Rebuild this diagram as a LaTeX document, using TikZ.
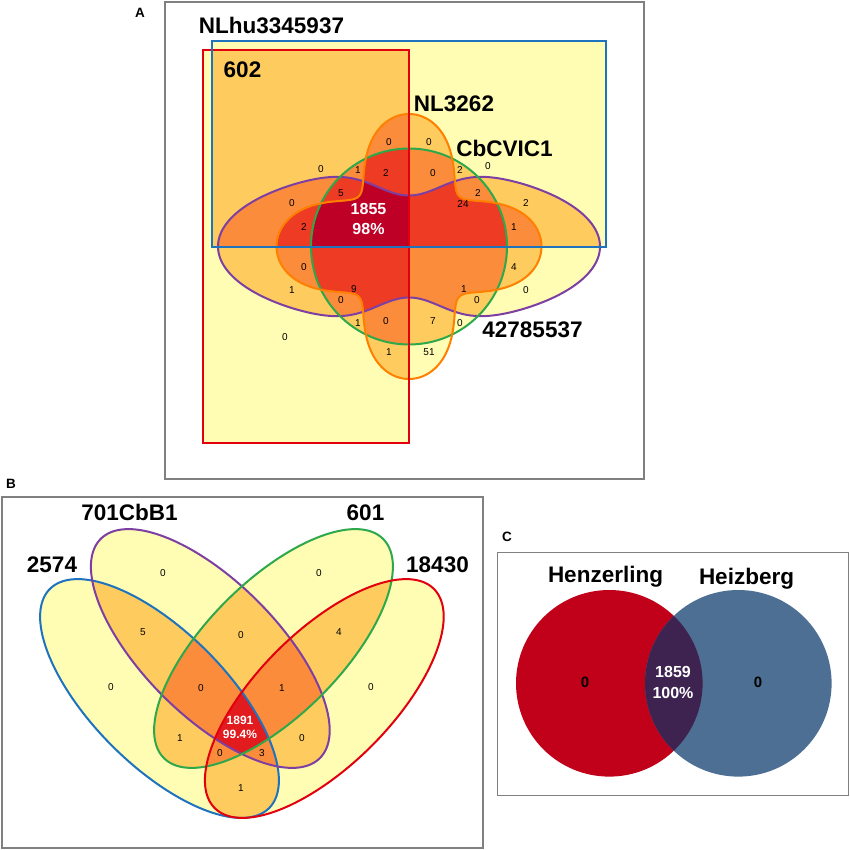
\documentclass[tikz,border=0pt]{standalone}
\usepackage{fontspec}
\setmainfont{Liberation Sans}
\definecolor{cA1}{HTML}{FFFDB3}
\definecolor{cA2}{HTML}{FDCB5E}
\definecolor{cA3}{HTML}{FA8C3B}
\definecolor{cA4}{HTML}{EE3B23}
\definecolor{cA5}{HTML}{BE0026}
\definecolor{cB4}{HTML}{E21B1E}
\definecolor{lnRed}{HTML}{E2000F}
\definecolor{lnBlue}{HTML}{1E73BE}
\definecolor{lnGreen}{HTML}{2DA84A}
\definecolor{lnPurple}{HTML}{7E3FA3}
\definecolor{lnOrange}{HTML}{FF8000}
\definecolor{cRed}{HTML}{C10019}
\definecolor{cBlue}{HTML}{4C6F93}
\definecolor{cMix}{HTML}{3E2350}
\definecolor{frameGray}{HTML}{808080}
% panel A sets
\def\sR{(203,50) rectangle (409,443)}
\def\sB{(212,41) rectangle (606,247)}
\def\sG{(409,246.5) circle[radius=98]}
\def\sP{plot[domain=180:0,samples=140,variable=\t] ({409+191*cos(\t)},{246.5-78*sin(\t)+27*exp(-((191*cos(\t)/47)^2))}) -- plot[domain=0:180,samples=140,variable=\t] ({409+191*cos(\t)},{246.5+78*sin(\t)-27*exp(-((191*cos(\t)/47)^2))}) -- cycle}
\def\sO{plot[domain=0:360,samples=241,variable=\t] ({409+(103.875+30.75*cos(4*\t)-2.125*cos(8*\t))*cos(\t)},{246.5+(103.875+30.75*cos(4*\t)-2.125*cos(8*\t))*sin(\t)}) -- cycle}
% panel B sets
\def\eBl{plot[domain=0:360,samples=160,variable=\t] ({159.5+0.7071*(155*cos(\t)-67*sin(\t))},{698.5+0.7071*(155*cos(\t)+67*sin(\t))}) -- cycle}
\def\ePu{plot[domain=0:360,samples=160,variable=\t] ({210.3+0.7071*(155*cos(\t)-67*sin(\t))},{648.5+0.7071*(155*cos(\t)+67*sin(\t))}) -- cycle}
\def\eGr{plot[domain=0:360,samples=160,variable=\t] ({273.5+0.7071*(155*cos(\t)+67*sin(\t))},{648.5+0.7071*(-155*cos(\t)+67*sin(\t))}) -- cycle}
\def\eRe{plot[domain=0:360,samples=160,variable=\t] ({324.3+0.7071*(155*cos(\t)+67*sin(\t))},{698.5+0.7071*(-155*cos(\t)+67*sin(\t))}) -- cycle}
\newcommand\FillTwo[3]{\begin{scope}\clip #1;\fill[#3] #2;\end{scope}}
\newcommand\FillThree[4]{\begin{scope}\clip #1;\clip #2;\fill[#4] #3;\end{scope}}
\newcommand\FillFour[5]{\begin{scope}\clip #1;\clip #2;\clip #3;\fill[#5] #4;\end{scope}}
\newcommand\FillFive[6]{\begin{scope}\clip #1;\clip #2;\clip #3;\clip #4;\fill[#6] #5;\end{scope}}
\begin{document}
\begin{tikzpicture}[x=1pt,y=-1pt,
  num/.style={font=\fontsize{10}{10}\selectfont, inner sep=0pt},
  big/.style={font=\bfseries\fontsize{22.5}{22.5}\selectfont, inner sep=0pt, anchor=base},
  plabel/.style={font=\bfseries\fontsize{13.5}{13.5}\selectfont, inner sep=0pt},
  ctrA/.style={font=\bfseries\fontsize{16}{20.5}\selectfont, text=white, align=center, inner sep=0pt},
  ctrB/.style={font=\bfseries\fontsize{12}{14}\selectfont, text=white, align=center, inner sep=0pt},
  panelframe/.style={draw=frameGray, line width=1.3pt},
  setline/.style={line width=2pt},
]
\useasboundingbox (0,0) rectangle (850,850);
\fill[white] (0,0) rectangle (850,850);

% ================= Panel A =================
\draw[panelframe] (165,2) rectangle (644,479);
\node[plabel] (labA) at (140,13) {A};
\fill[cA1] \sR; \fill[cA1] \sB; \fill[cA1] \sG; \fill[cA1] \sP; \fill[cA1] \sO;
\FillTwo{\sR}{\sB}{cA2} \FillTwo{\sR}{\sG}{cA2} \FillTwo{\sR}{\sP}{cA2} \FillTwo{\sR}{\sO}{cA2}
\FillTwo{\sB}{\sG}{cA2} \FillTwo{\sB}{\sP}{cA2} \FillTwo{\sB}{\sO}{cA2}
\FillTwo{\sG}{\sP}{cA2} \FillTwo{\sG}{\sO}{cA2} \FillTwo{\sP}{\sO}{cA2}
\FillThree{\sR}{\sB}{\sG}{cA3} \FillThree{\sR}{\sB}{\sP}{cA3} \FillThree{\sR}{\sB}{\sO}{cA3}
\FillThree{\sR}{\sG}{\sP}{cA3} \FillThree{\sR}{\sG}{\sO}{cA3} \FillThree{\sR}{\sP}{\sO}{cA3}
\FillThree{\sB}{\sG}{\sP}{cA3} \FillThree{\sB}{\sG}{\sO}{cA3} \FillThree{\sB}{\sP}{\sO}{cA3}
\FillThree{\sG}{\sP}{\sO}{cA3}
\FillFour{\sR}{\sB}{\sG}{\sP}{cA4} \FillFour{\sR}{\sB}{\sG}{\sO}{cA4} \FillFour{\sR}{\sB}{\sP}{\sO}{cA4}
\FillFour{\sR}{\sG}{\sP}{\sO}{cA4} \FillFour{\sB}{\sG}{\sP}{\sO}{cA4}
\FillFive{\sR}{\sB}{\sG}{\sP}{\sO}{cA5}
\draw[setline, lnPurple] \sP;
\draw[setline, lnGreen] \sG;
\draw[setline, lnOrange] \sO;
\draw[setline, lnRed] \sR;
\draw[setline, lnBlue] \sB;

\node[big] (tNLhu) at (271.5,34) {NLhu3345937};
\node[big] (t602) at (242.5,78) {602};
\node[big] (tNL) at (454,111.5) {NL3262};
\node[big] (tCb) at (504.5,156.5) {CbCVIC1};
\node[big] (t427) at (532.5,337.5) {42785537};
\node[ctrA] (cA) at (368.5,219) {1855\\98\%};
\foreach \x/\y/\v [count=\i] in {389/142/0, 429/142/0, 321/169/0, 358/170/1, 386/173/2, 433/173/0, 460/170/2, 488/166/0, 341/193/5, 478/193/2, 292/203/0, 463/204/24, 526/203/2, 304/227/2, 514/227/1, 304/267/0, 514/267/4, 292/290/1, 354/289/9, 464/289/1, 526/290/0, 341/300/0, 477/300/0, 358/323/1, 386/321/0, 433/321/7, 460/323/0, 285/337/0, 389/352/1, 429/352/51}
  \node[num] (na\i) at (\x,\y) {\v};

% ================= Panel B =================
\draw[panelframe] (2,497) rectangle (483,848);
\node[plabel] (labB) at (11,484) {B};
\fill[cA1] \eBl; \fill[cA1] \ePu; \fill[cA1] \eGr; \fill[cA1] \eRe;
\FillTwo{\eBl}{\ePu}{cA2} \FillTwo{\eBl}{\eGr}{cA2} \FillTwo{\eBl}{\eRe}{cA2}
\FillTwo{\ePu}{\eGr}{cA2} \FillTwo{\ePu}{\eRe}{cA2} \FillTwo{\eGr}{\eRe}{cA2}
\FillThree{\eBl}{\ePu}{\eGr}{cA3} \FillThree{\eBl}{\ePu}{\eRe}{cA3}
\FillThree{\eBl}{\eGr}{\eRe}{cA3} \FillThree{\ePu}{\eGr}{\eRe}{cA3}
\FillFour{\eBl}{\ePu}{\eGr}{\eRe}{cB4}
\draw[setline, lnBlue] \eBl;
\draw[setline, lnPurple] \ePu;
\draw[setline, lnGreen] \eGr;
\draw[setline, lnRed] \eRe;
\node[big] (t2574) at (52,572) {2574};
\node[big] (t701) at (129.5,520.5) {701CbB1};
\node[big] (t601) at (365.5,520) {601};
\node[big] (t18430) at (437.5,572) {18430};
\node[ctrB] (cB) at (240,727) {1891\\99.4\%};
\foreach \x/\y/\v [count=\i] in {163/573/0, 319/573/0, 143/632/5, 241/635/0, 339/632/4, 111/687/0, 201/688/0, 282/688/1, 371/687/0, 180/738/1, 302/738/0, 220/753/0, 262/753/3, 241/788/1}
  \node[num] (nb\i) at (\x,\y) {\v};

% ================= Panel C =================
\node[plabel] (labC) at (507,537) {C};
\draw[panelframe, line width=1pt] (497,552) rectangle (848,795);
\fill[cRed] (609.3,683.3) circle[radius=93.3];
\fill[cBlue] (738.3,683.3) circle[radius=93.3];
\begin{scope}
  \clip (609.3,683.3) circle[radius=93.3];
  \fill[cMix] (738.3,683.3) circle[radius=93.3];
\end{scope}
\node[big] (tHen) at (605.5,582.5) {Henzerling};
\node[big] (tHei) at (746.5,584) {Heizberg};
\node[font=\bfseries\fontsize{15}{15}\selectfont, inner sep=0pt] (nc1) at (585,682) {0};
\node[font=\bfseries\fontsize{15}{15}\selectfont, inner sep=0pt] (nc2) at (758,682) {0};
\node[ctrA] (cC) at (673,682.5) {1859\\100\%};
\end{tikzpicture}
\end{document}
